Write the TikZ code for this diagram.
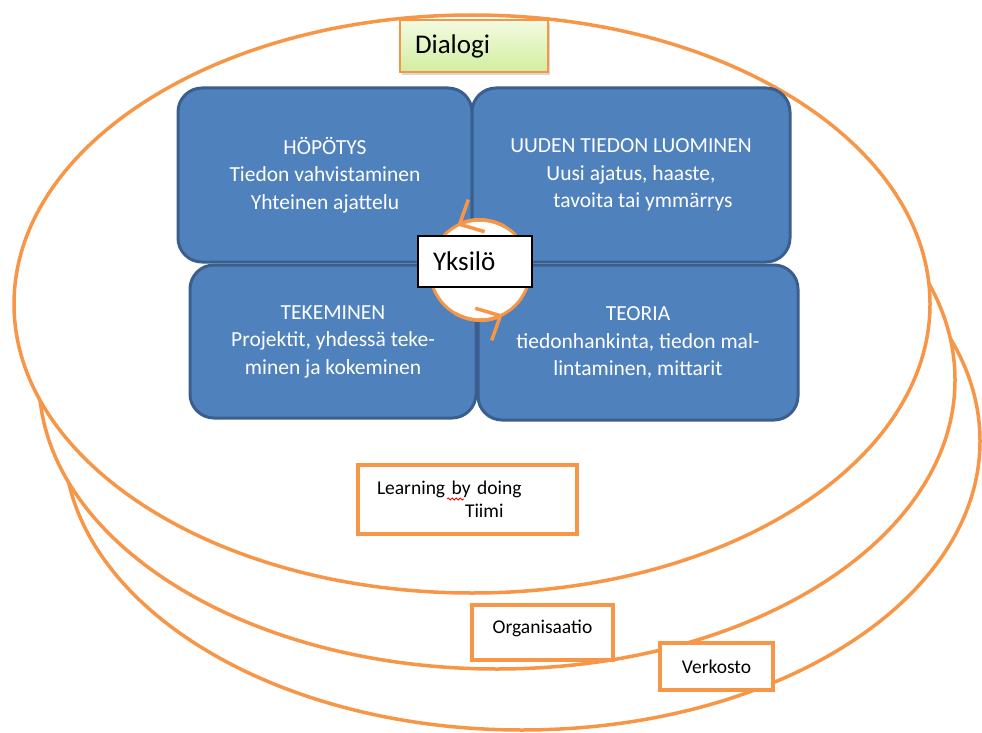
\documentclass[tikz,border=0pt]{standalone}
\usepackage{fontspec}
\setmainfont{Carlito}
\usepackage{xcolor}
\definecolor{kehaor}{HTML}{F79646}
\definecolor{laatbl}{HTML}{4F81BD}
\definecolor{laatrj}{HTML}{3A5F8E}
\definecolor{dialyl}{HTML}{F3FBE2}
\definecolor{dialal}{HTML}{D2EE9E}
\usepackage{tikz}
\usetikzlibrary{arrows.meta,shadows,decorations.pathmorphing}

\begin{document}
\begin{tikzpicture}[x=1pt,y=-1pt,
  keha/.style={draw=kehaor,line width=3.5pt,fill=white},
  laatta/.style={draw=laatrj,line width=3pt,fill=laatbl,rounded corners=24pt,inner sep=0pt,
    text=white,align=center,font=\fontsize{21.5}{27.5}\selectfont},
  tasobox/.style={draw=kehaor,line width=4pt,fill=white,inner sep=0pt,font=\fontsize{19.5}{23}\selectfont},
  kiertonuoli/.style={draw=kehaor,line width=3.5pt,-{Straight Barb[length=19pt,width=36pt]}}]
\useasboundingbox (0,0) rectangle (982,733);
\draw[keha] (522,441) ellipse [x radius=458,y radius=289];
\draw[keha] (497,380) ellipse [x radius=458,y radius=289];
\draw[keha] (472,304) ellipse [x radius=458,y radius=289];

\node[laatta,minimum width=294,minimum height=174] (hopo) at (325,175)
  {HÖPÖTYS\\Tiedon vahvistaminen\\Yhteinen ajattelu};
\node[laatta,minimum width=318,minimum height=174] (uusi) at (631,175)
  {UUDEN TIEDON LUOMINEN\\Uusi ajatus, haaste,\\\hspace*{24pt}tavoita tai ymmärrys};
\node[laatta,minimum width=286,minimum height=153] (teke) at (333,341.5)
  {TEKEMINEN\\Projektit, yhdessä teke-\\minen ja kokeminen};
\node[laatta,minimum width=320,minimum height=155] (teor) at (638,342.5)
  {TEORIA\\tiedonhankinta, tiedon mal-\\lintaminen, mittarit};

\node[circle,draw=kehaor,line width=3pt,fill=white,minimum size=100,inner sep=0pt] (kierto) at (480,270) {};
\draw[kiertonuoli] ([shift={(300:50)}]kierto.center) arc [start angle=300,end angle=243,radius=50];
\draw[kiertonuoli] ([shift={(120:50)}]kierto.center) arc [start angle=120,end angle=63,radius=50];
\node[draw=black,line width=1.5pt,fill=white,minimum width=114,minimum height=51,inner sep=0pt,
  text width=84,align=left,font=\fontsize{27}{30}\selectfont] (yksilo) at (475,261.5) {Yksilö};

\node[draw=kehaor,line width=1.5pt,top color=dialyl,bottom color=dialal,
  drop shadow={shadow xshift=2pt,shadow yshift=-3pt,opacity=0.3},
  minimum width=148,minimum height=52,inner sep=0pt,text width=118,align=left,
  font=\fontsize{27}{30}\selectfont] (dialogi) at (474,46) {Dialogi};

\node[tasobox,minimum width=219,minimum height=69,text width=181,align=left,
  font=\fontsize{19.5}{23}\selectfont] (tiimi) at (467.5,499.5) {Learning by doing\\\hspace*{88pt}Tiimi};
\draw[red,line width=0.8pt,decorate,decoration={snake,amplitude=1pt,segment length=4pt}]
  (447,499) -- (464,499);
\node[tasobox,minimum width=141,minimum height=55,text depth=11pt] (organisaatio) at (542.5,632.5) {Organisaatio};
\node[tasobox,minimum width=113,minimum height=47] (verkosto) at (716.5,666.5) {Verkosto};
\end{tikzpicture}
\end{document}
